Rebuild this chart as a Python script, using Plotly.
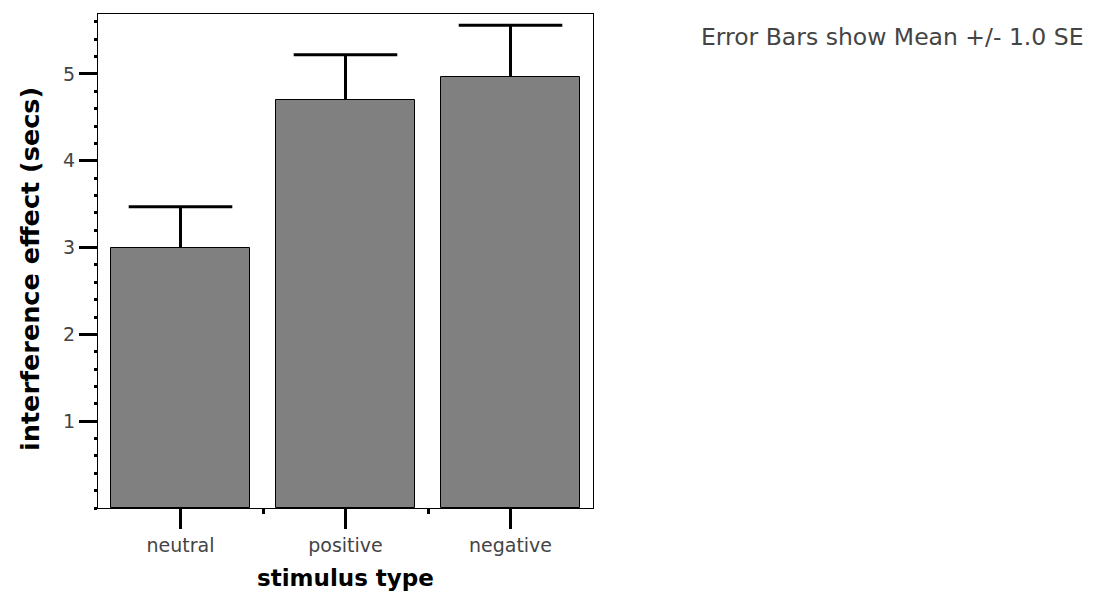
import plotly.graph_objects as go

# Mean interference effect per stimulus type, with one standard error
categories = ["neutral", "positive", "negative"]
means = [3.00, 4.70, 4.97]
se = [0.47, 0.52, 0.59]
y_tick_vals = [1, 2, 3, 4, 5]

x_pos = list(range(len(categories)))
upper = [m + s for m, s in zip(means, se)]

fig = go.Figure()

# Bars with upward-only error stems (no caps here; caps drawn separately)
fig.add_trace(go.Bar(
    x=x_pos,
    y=means,
    width=0.842,
    marker=dict(color="#808080", line=dict(color="black", width=1)),
    error_y=dict(type="data", symmetric=False, array=se,
                 arrayminus=[0] * len(se), color="black", thickness=3, width=0),
    showlegend=False,
    hoverinfo="skip",
))

# Caps at the top of each error bar
fig.add_trace(go.Scatter(
    x=x_pos,
    y=upper,
    mode="markers",
    marker=dict(symbol="line-ew", size=74, color="black",
                line=dict(color="black", width=3)),
    showlegend=False,
    hoverinfo="skip",
))

tick_font = dict(family="DejaVu Sans", size=19, color="#444444")
title_font = dict(family="DejaVu Sans", size=23, color="black")

fig.update_layout(
    width=1101,
    height=594,
    margin=dict(l=98, r=508, t=14, b=86),
    plot_bgcolor="white",
    paper_bgcolor="white",
    bargap=0,
    xaxis=dict(
        range=[-0.5, 2.5],
        tickmode="array",
        tickvals=x_pos,
        ticktext=categories,
        ticks="outside",
        ticklen=20,
        tickwidth=3,
        tickcolor="black",
        tickfont=tick_font,
        showline=True,
        linecolor="black",
        linewidth=1,
        mirror=True,
        showgrid=False,
        zeroline=False,
        minor=dict(tickmode="array", tickvals=[0.5, 1.5], ticks="outside",
                   ticklen=5, tickwidth=3, tickcolor="black", showgrid=False),
    ),
    yaxis=dict(
        range=[0, 5.69],
        tickmode="array",
        tickvals=y_tick_vals,
        ticks="outside",
        ticklen=18,
        tickwidth=3,
        tickcolor="black",
        tickfont=tick_font,
        showline=True,
        linecolor="black",
        linewidth=1,
        mirror=True,
        showgrid=False,
        zeroline=False,
        minor=dict(tick0=0, dtick=0.2, ticks="outside", ticklen=3,
                   tickwidth=3, tickcolor="black", showgrid=False),
    ),
    annotations=[
        dict(text="<b>stimulus type</b>", xref="paper", yref="paper",
             x=0.5, y=0, xanchor="center", yanchor="middle", yshift=-70,
             showarrow=False, font=title_font),
        dict(text="<b>interference effect (secs)</b>", xref="paper", yref="paper",
             x=0, y=0.5, xanchor="center", yanchor="middle", xshift=-68,
             yshift=-8, textangle=-90, showarrow=False,
             font=dict(family="DejaVu Sans", size=25.5, color="black")),
        dict(text="Error Bars show Mean +/- 1.0 SE", xref="paper", yref="paper",
             x=(699 - 98) / 495, y=(508 - 37) / 494, xanchor="left",
             yanchor="middle", showarrow=False,
             font=dict(family="DejaVu Sans", size=23.5, color="#444444")),
    ],
)

fig.write_html("out.html")
